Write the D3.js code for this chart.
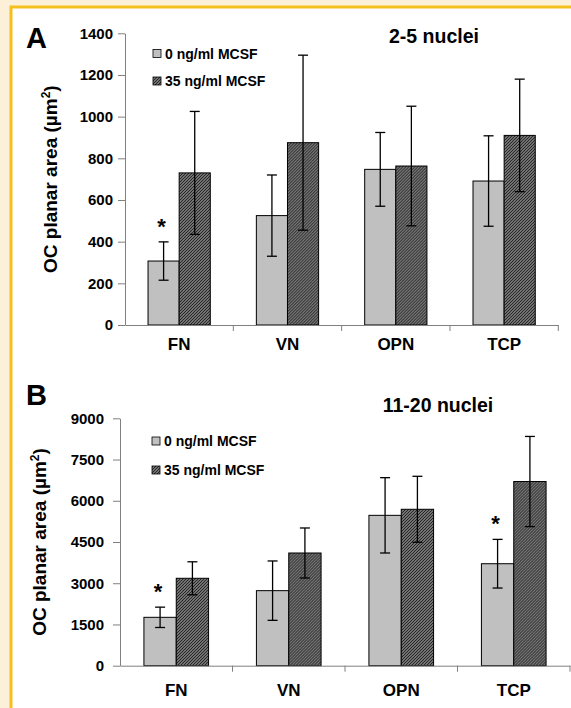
<script src="https://cdn.jsdelivr.net/npm/d3@7"></script>
<style>
  html, body { margin: 0; overflow: hidden; background: #fff; }
  text { font-family: "Liberation Sans", Arial, sans-serif; font-weight: bold; fill: #000; }
</style>
<div id="chart"></div>
<script>
// OC planar area, two panels
const categories = ['FN', 'VN', 'OPN', 'TCP'];
const series = ['0 ng/ml MCSF', '35 ng/ml MCSF'];

// panel A: 2-5 nuclei
const meansA0 = [307, 525, 747, 691];
const errA0 = [92, 195, 177, 217];
const meansA35 = [730, 875, 763, 910];
const errA35 = [295, 420, 287, 270];
const ticksA = [0, 200, 400, 600, 800, 1000, 1200, 1400];
const starsA = ['FN'];

// panel B: 11-20 nuclei
const meansB0 = [1760, 2730, 5470, 3710];
const errB0 = [370, 1080, 1370, 885];
const meansB35 = [3180, 4100, 5690, 6700];
const errB35 = [600, 910, 1200, 1640];
const ticksB = [0, 1500, 3000, 4500, 6000, 7500, 9000];
const starsB = ['FN', 'TCP'];

var svg = d3.select('#chart').append('svg')
  .attr('width', 600).attr('height', 720)
  .style('display', 'block');

// hatch pattern for 35 ng/ml bars
var pat = svg.append('defs').append('pattern')
  .attr('id', 'hatch')
  .attr('patternUnits', 'userSpaceOnUse')
  .attr('width', 3).attr('height', 3);
pat.append('rect').attr('width', 3).attr('height', 3).attr('fill', '#b0b0b0');
pat.append('path')
  .attr('d', 'M-1,1 l2,-2 M0,3 l3,-3 M2,4 l2,-2')
  .attr('stroke', '#262626').attr('stroke-width', 1.3);

// page frame: cream margin top and left, yellow rule
svg.append('rect').attr('x', 0).attr('y', 0).attr('width', 600).attr('height', 7).attr('fill', '#fcf0d8');
svg.append('rect').attr('x', 0).attr('y', 0).attr('width', 11).attr('height', 720).attr('fill', '#fcf0d8');
svg.append('path').attr('d', 'M11,720 V7 H600')
  .attr('fill', 'none').attr('stroke', '#f3c01c').attr('stroke-width', 3);

function panel(cfg) {
  var x = d3.scaleBand().domain(categories).range([cfg.x0, cfg.x1]);
  var xs = d3.scaleBand().domain(series).range([0, x.bandwidth()]).paddingOuter(0.74);
  var y = d3.scaleLinear().domain([0, cfg.max]).range([cfg.y0, cfg.y1]);
  var g = svg.append('g');

  // y axis
  var ya = g.append('g').attr('transform', `translate(${cfg.x0},0)`)
    .call(d3.axisLeft(y).tickValues(cfg.ticks).tickFormat(d3.format('d'))
      .tickSize(7).tickPadding(cfg.tickPad).tickSizeOuter(0));
  ya.select('.domain').attr('stroke', '#808080');
  ya.selectAll('.tick line').attr('stroke', '#808080');
  ya.selectAll('.tick text').style('font-size', '15px').attr('font-family', null);

  // bars
  var rows = categories.map((c, i) => ({
    cat: c,
    vals: [
      {s: series[0], v: cfg.m0[i], e: cfg.e0[i]},
      {s: series[1], v: cfg.m35[i], e: cfg.e35[i]}
    ]
  }));
  var grp = g.selectAll('g.cat').data(rows).enter().append('g')
    .attr('transform', d => `translate(${x(d.cat)},0)`);
  grp.selectAll('rect').data(d => d.vals).enter().append('rect')
    .attr('x', d => xs(d.s))
    .attr('width', xs.bandwidth())
    .attr('y', d => y(d.v))
    .attr('height', d => y(0) - y(d.v))
    .attr('fill', (d, i) => i ? 'url(#hatch)' : '#c0c0c0')
    .attr('stroke', '#000').attr('stroke-width', 1);

  // error bars
  var eb = grp.selectAll('g.err').data(d => d.vals).enter().append('g')
    .attr('stroke', '#000').attr('stroke-width', 1.3);
  eb.append('line')
    .attr('x1', d => xs(d.s) + xs.bandwidth() / 2).attr('x2', d => xs(d.s) + xs.bandwidth() / 2)
    .attr('y1', d => y(d.v + d.e)).attr('y2', d => y(d.v - d.e));
  [1, -1].forEach(k => {
    eb.append('line')
      .attr('x1', d => xs(d.s) + xs.bandwidth() / 2 - 5).attr('x2', d => xs(d.s) + xs.bandwidth() / 2 + 5)
      .attr('y1', d => y(d.v + k * d.e)).attr('y2', d => y(d.v + k * d.e));
  });

  // significance stars
  grp.filter(d => cfg.stars.includes(d.cat)).append('text')
    .attr('x', d => xs(series[0]) + xs.bandwidth() / 2 - 2)
    .attr('y', d => y(d.vals[0].v + d.vals[0].e) - 21 + 13)
    .attr('text-anchor', 'middle').style('font-size', '22px')
    .text('*');

  // x axis
  var xa = g.append('g').attr('transform', `translate(0,${cfg.y0})`)
    .call(d3.axisBottom(x).tickSize(0).tickPadding(cfg.labPad));
  xa.select('.domain').attr('stroke', '#808080');
  xa.selectAll('.tick text').style('font-size', '17px').attr('font-family', null);
  xa.selectAll('line.sep').data(d3.range(1, categories.length + 1)).enter().append('line')
    .attr('class', 'sep')
    .attr('x1', i => cfg.x0 + i * x.step()).attr('x2', i => cfg.x0 + i * x.step())
    .attr('y1', 0).attr('y2', 6).attr('stroke', '#808080');

  // titles
  g.append('text').attr('x', cfg.letterX).attr('y', cfg.letterY).style('font-size', '29px').text(cfg.letter);
  g.append('text').attr('x', cfg.titleX).attr('y', cfg.titleY).attr('text-anchor', 'middle')
    .style('font-size', '19.5px').text(cfg.title);
  var yt = g.append('text')
    .attr('transform', `translate(${cfg.ylabX},${(cfg.y0 + cfg.y1) / 2}) rotate(-90)`)
    .attr('text-anchor', 'middle').style('font-size', '19px');
  yt.append('tspan').text('OC planar area (µm');
  yt.append('tspan').attr('dy', -7).style('font-size', '12px').text('2');
  yt.append('tspan').attr('dy', 7).text(')');

  // legend
  var lg = g.selectAll('g.leg').data(series).enter().append('g')
    .attr('transform', (d, i) => `translate(${cfg.legX},${cfg.legY + i * cfg.legGap})`);
  lg.append('rect').attr('x', 0).attr('y', -4).attr('width', 8).attr('height', 8)
    .attr('fill', (d, i) => i ? 'url(#hatch)' : '#c0c0c0')
    .attr('stroke', '#000').attr('stroke-width', 0.8);
  lg.append('text').attr('x', 12).attr('y', 5).style('font-size', '14px').text(d => d);
}

panel({
  x0: 125, x1: 558.3, y0: 325, y1: 33.3, max: 1400, ticks: ticksA, tickPad: 5, labPad: 13,
  m0: meansA0, e0: errA0, m35: meansA35, e35: errA35, stars: starsA,
  letter: 'A', letterX: 26, letterY: 48, title: '2-5 nuclei', titleX: 434, titleY: 43,
  ylabX: 57, legX: 153, legY: 53.5, legGap: 27.5
});
panel({
  x0: 120, x1: 570, y0: 665.7, y1: 418.3, max: 9000, ticks: ticksB, tickPad: 9, labPad: 18,
  m0: meansB0, e0: errB0, m35: meansB35, e35: errB35, stars: starsB,
  letter: 'B', letterX: 26, letterY: 405, title: '11-20 nuclei', titleX: 438, titleY: 412,
  ylabX: 46, legX: 152, legY: 441, legGap: 29
});
</script>
